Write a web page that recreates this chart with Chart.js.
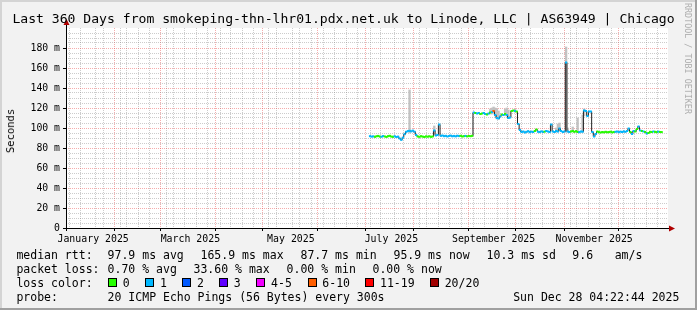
<!DOCTYPE html>
<html><head><meta charset="utf-8">
<script src="https://cdn.jsdelivr.net/npm/chart.js@4.4.1/dist/chart.umd.min.js"></script>
<style>
html,body{margin:0;padding:0;background:#f2f2f2;}
#wrap{position:relative;width:697px;height:310px;overflow:hidden;}
#c{position:absolute;left:0;top:0;}
.t{position:absolute;white-space:pre;font-family:"DejaVu Sans Mono",monospace;color:#000;font-size:11.5px;line-height:14px;}
.box{position:absolute;width:9px;height:9px;box-sizing:border-box;border:1px solid #000;}
</style></head><body>
<div id="wrap">
<canvas id="c" width="697" height="310"></canvas>
<div class="t" style="left:12.4px;top:10.5px;font-size:13.1px;line-height:16px;">Last 360 Days from smokeping-thn-lhr01.pdx.net.uk to Linode, LLC | AS63949 | Chicago</div>
<div class="t" style="left:10px;top:131px;font-size:10.5px;line-height:12px;transform:translate(-50%,-50%) rotate(-90deg);">Seconds</div>
<div class="t" style="left:693px;top:3px;font-size:8.4px;line-height:10px;color:#adadad;transform-origin:0 0;transform:rotate(90deg);">RRDTOOL / TOBI OETIKER</div>

<div class="t" style="left:16.4px;top:247.5px;">median rtt:</div>
<div class="t" style="left:107.6px;top:247.5px;">97.9 ms avg</div>
<div class="t" style="left:200.5px;top:247.5px;">165.9 ms max</div>
<div class="t" style="left:300.5px;top:247.5px;">87.7 ms min</div>
<div class="t" style="left:393.5px;top:247.5px;">95.9 ms now</div>
<div class="t" style="left:486.6px;top:247.5px;">10.3 ms sd</div>
<div class="t" style="left:572.3px;top:247.5px;">9.6</div>
<div class="t" style="left:614.7px;top:247.5px;">am/s</div>

<div class="t" style="left:16.4px;top:261.5px;">packet loss:</div>
<div class="t" style="left:107.6px;top:261.5px;">0.70 % avg</div>
<div class="t" style="left:193.5px;top:261.5px;">33.60 % max</div>
<div class="t" style="left:286.6px;top:261.5px;">0.00 % min</div>
<div class="t" style="left:372.5px;top:261.5px;">0.00 % now</div>

<div class="t" style="left:16.4px;top:275.5px;">loss color:</div>
<div id="losslegend"></div>

<div class="t" style="left:16.4px;top:289.5px;">probe:</div>
<div class="t" style="left:107.6px;top:289.5px;">20 ICMP Echo Pings (56 Bytes) every 300s</div>
<div class="t" style="left:513.2px;top:289.5px;">Sun Dec 28 04:22:44 2025</div>
</div>
<script>
// ---- time axis (days since 2025-01-01 00:00) ----
const START = 1 + (4*3600 + 22*60 + 44) / 86400;   // Jan 2 2025 04:22:44
const END = START + 360;                            // Dec 28 2025 04:22:44
const dayOf = (m, d) => (Date.UTC(2025, m - 1, d) - Date.UTC(2025, 0, 1)) / 86400000;

const monthLabels = ['January 2025', 'March 2025', 'May 2025', 'July 2025', 'September 2025', 'November 2025'];
const monthLabelMonths = [1, 3, 5, 7, 9, 11];
const monthLineMonths = [2, 3, 4, 5, 6, 7, 8, 9, 10, 11, 12];
const firstSunday = dayOf(1, 5);

const yLabelValues = [0, 20, 40, 60, 80, 100, 120, 140, 160, 180];
const yLabels = ['0', '20 m', '40 m', '60 m', '80 m', '100 m', '120 m', '140 m', '160 m', '180 m'];

// ---- data: one value per day, starting at day 183 (Jul 3) ----
const firstDay = 183;
const median = [
  91.8, 91.4, 91.6, 91.2, 91.7, 92.1, 91.4, 91.3, 91.9, 91.5, 91.1, 91.8, 92.2, 91.4, 91.2, 91.7, 91.0, 91.4,
  89.5, 88.2, 90.4,
  93.8, 96.2, 96.9, 97.2, 96.6, 97.4, 96.3, 93.0,
  91.5, 91.2, 91.8, 91.4, 91.0, 91.6, 91.3, 91.7, 91.2, 91.5,
  97.5, 92.5, 93.0, 103.5, 92.2,
  92.5, 91.8, 92.2, 91.5, 92.0, 92.4, 91.7, 92.1, 91.6, 92.3, 91.9, 92.2, 91.5, 91.8, 92.1, 91.6, 92.0, 91.8, 92.2,
  115.5, 115.0, 114.5, 115.0, 114.0, 114.5, 115.0, 114.0, 113.5, 114.5, 115.5, 116.0, 117.0, 113.0, 110.0, 109.5,
  111.5, 113.5, 113.0, 114.0, 113.0, 110.0, 110.5, 117.0, 117.5, 117.0, 116.5, 104.0, 98.0,
  96.0, 96.5, 95.5, 96.2, 96.8, 95.8, 96.4, 96.0, 97.0, 98.5, 96.3, 95.9, 96.6, 96.1, 96.4,
  97.0, 96.5, 96.0, 103.5, 96.5, 96.0, 97.0, 96.5, 99.5, 97.0, 96.0, 96.5,
  165.5,
  96.5, 96.0, 96.5, 97.0, 96.2, 96.8, 96.0, 95.8, 96.5, 96.3,
  117.5, 117.0, 112.0, 116.5, 116.5, 96.0, 91.5, 94.0, 96.5,
  95.8, 95.5, 96.0, 95.6, 96.2, 95.7, 95.9, 96.3, 95.6, 96.0,
  96.2, 96.5, 95.8, 96.4, 96.0, 96.6, 96.2, 97.0,
  99.5, 96.0, 94.0, 97.0, 96.5, 99.0, 101.5, 97.5, 97.0, 96.5, 96.0, 94.5, 95.0, 96.2,
  96.0, 96.5, 96.2, 95.8, 96.4, 96.0, 95.9
];
// lost pings (of 20) for each median value
const loss = [
  1, 1, 1, 0, 0, 0, 0, 1, 1, 0, 0, 0, 0, 0, 0, 1, 1, 1,
  1, 1, 1,
  1, 1, 1, 1, 1, 1, 1, 1,
  0, 0, 0, 0, 0, 0, 0, 0, 0, 0,
  1, 1, 1, 1, 1,
  1, 1, 1, 1, 1, 1, 1, 1, 1, 1, 1, 0, 0, 0, 1, 0, 0, 0, 0,
  1, 0, 1, 1, 0, 0, 1, 1, 0, 1, 0, 1, 7, 1, 1, 1,
  1, 0, 1, 0, 1, 1, 1, 0, 0, 1, 0, 1, 1,
  1, 1, 1, 1, 1, 1, 1, 1, 0, 0, 1, 1, 1, 1, 0,
  1, 1, 1, 1, 1, 1, 1, 1, 1, 1, 1, 1,
  1,
  1, 1, 0, 0, 0, 0, 0, 1, 1, 1,
  1, 1, 1, 1, 1, 1, 1, 1, 0,
  0, 0, 0, 0, 0, 0, 0, 0, 0, 0,
  1, 1, 1, 1, 1, 1, 1, 1,
  1, 0, 1, 1, 0, 0, 1, 1, 0, 1, 0, 1, 0, 0,
  0, 1, 0, 0, 1, 0, 0
];
// smoke (spread of the pings) where it shows above the median line
const smokeDay = [207, 222, 256, 257, 258, 259, 260, 261, 265, 266, 267, 271, 296, 297, 298, 302, 303, 306, 309, 312, 313];
const smokeLo  = [ 95,  96, 114, 114, 115, 112, 109, 109, 113, 112, 110, 116,  96,  96,  97,  96,  96,  96,  96,  96, 112];
const smokeHi  = [138, 102, 119, 120, 121, 120, 119, 117, 119, 120, 118, 119, 100, 104, 105, 181, 100, 101, 110, 113, 119];

const lossBins = [0, 1, 2, 3, 5, 10, 19, 20];
const lossNames = ['0', '1', '2', '3', '4-5', '6-10', '11-19', '20/20'];
const lossColors = ['#26ff00', '#00b8ff', '#0059ff', '#5e00ff', '#f200ff', '#ff5e00', '#ff0000', '#a10000'];
const colorFor = n => lossColors[lossBins.findIndex(b => n <= b)];

// loss legend
const lossBoxX = [108, 145.3, 182.2, 219, 256.4, 307.6, 365.3, 430];
const ll = document.getElementById('losslegend');
lossNames.forEach((name, i) => {
  const b = document.createElement('div');
  b.className = 'box'; b.style.left = lossBoxX[i] + 'px'; b.style.top = '278px'; b.style.background = lossColors[i];
  ll.appendChild(b);
  const t = document.createElement('div');
  t.className = 't'; t.style.left = (lossBoxX[i] + 14.7) + 'px'; t.style.top = '275.5px'; t.textContent = name;
  ll.appendChild(t);
});

// ---- ticks ----
const xTicks = [];
for (let d = firstSunday; d <= END; d += 7) if (d >= START) xTicks.push({ value: d, kind: 'week' });
monthLineMonths.forEach(m => xTicks.push({ value: dayOf(m, 1), kind: 'month' }));
monthLabelMonths.forEach((m, i) => xTicks.push({ value: dayOf(m, 1) + 15, kind: 'label', lbl: monthLabels[i] }));
xTicks.sort((a, b) => a.value - b.value);

const yTicks = [];
for (let v = 0; v <= 200; v += 5) {
  const k = yLabelValues.indexOf(v);
  yTicks.push(k >= 0 ? { value: v, kind: 'major', lbl: yLabels[k] } : { value: v, kind: v === 200 ? 'none' : 'minor' });
}

const GRAY = 'rgba(120,120,120,0.38)';
const RED = 'rgba(230,60,60,0.42)';

const medianPts = median.map((v, i) => ({ x: firstDay + i, y: v }));
const smokePts = smokeDay.map((d, i) => ({ x: d, y: [smokeLo[i], smokeHi[i]] }));
const pointColors = loss.map(colorFor);

const bgPlugin = {
  id: 'bg',
  beforeDraw(chart) {
    const c = chart.ctx, a = chart.chartArea;
    c.save();
    c.fillStyle = '#f2f2f2'; c.fillRect(0, 0, 697, 310);
    c.fillStyle = '#d4d4d4'; c.fillRect(0, 0, 697, 2); c.fillRect(0, 0, 2, 310);
    c.fillStyle = '#a0a0a0'; c.fillRect(0, 308, 697, 2); c.fillRect(695, 0, 2, 310);
    c.fillStyle = '#ffffff'; c.fillRect(a.left, a.top, a.right - a.left, a.bottom - a.top);
    c.restore();
  }
};
const axisPlugin = {
  id: 'axes',
  afterDraw(chart) {
    const c = chart.ctx, a = chart.chartArea;
    const yb = a.bottom + 0.5, xl = a.left + 0.5;
    c.save();
    c.strokeStyle = '#000'; c.lineWidth = 1;
    c.beginPath(); c.moveTo(a.left - 3, yb); c.lineTo(a.right + 3, yb); c.stroke();
    c.beginPath(); c.moveTo(xl, a.bottom + 3); c.lineTo(xl, a.top - 4); c.stroke();
    c.fillStyle = '#b00000';
    c.beginPath(); c.moveTo(a.right + 1, yb - 3); c.lineTo(a.right + 7, yb); c.lineTo(a.right + 1, yb + 3); c.closePath(); c.fill();
    c.beginPath(); c.moveTo(xl - 3, a.top - 3); c.lineTo(xl, a.top - 9); c.lineTo(xl + 3, a.top - 3); c.closePath(); c.fill();
    c.restore();
  }
};

new Chart(document.getElementById('c'), {
  type: 'line',
  data: {
    datasets: [
      { type: 'bar', data: smokePts, backgroundColor: '#c2c2c2', borderWidth: 0, barThickness: 1.7, grouped: false, order: 3 },
      { type: 'line', data: medianPts, borderColor: '#202020', borderWidth: 1, stepped: 'middle', pointRadius: 0, fill: false, order: 2 },
      { type: 'line', data: medianPts, showLine: false, pointStyle: 'line', pointRadius: 1.1, pointBorderWidth: 2,
        pointBorderColor: pointColors, pointBackgroundColor: pointColors, order: 1 }
    ]
  },
  options: {
    responsive: false, animation: false, events: [], devicePixelRatio: 1,
    layout: { padding: { left: 16, right: 29, top: 28, bottom: 60 } },
    plugins: { legend: { display: false }, title: { display: false }, tooltip: { enabled: false } },
    scales: {
      x: {
        type: 'linear', min: START, max: END,
        afterFit(s) { s.height = 22; },
        afterBuildTicks(s) { s.ticks = xTicks.map(t => Object.assign({}, t)); },
        ticks: { autoSkip: false, maxRotation: 0, padding: 2, color: '#000',
          font: { family: 'DejaVu Sans Mono', size: 9.9 },
          callback: (v, i, t) => t[i].lbl || '' },
        grid: {
          lineWidth: 1, tickLength: 3,
          color: c => c.tick && c.tick.kind === 'month' ? RED : (c.tick && c.tick.kind === 'week' ? GRAY : 'rgba(0,0,0,0)'),
          tickColor: c => c.tick && c.tick.kind === 'month' ? '#000' : 'rgba(0,0,0,0)'
        },
        border: { display: false, dash: [1, 1] }
      },
      y: {
        min: 0, max: 200,
        afterFit(s) { s.width = 50; },
        afterBuildTicks(s) { s.ticks = yTicks.map(t => Object.assign({}, t)); },
        ticks: { autoSkip: false, padding: 3, color: '#000',
          font: { family: 'DejaVu Sans Mono', size: 9.8 },
          callback: (v, i, t) => t[i].lbl || '' },
        grid: {
          lineWidth: 1, tickLength: 3,
          color: c => c.tick && c.tick.kind === 'major' ? RED : (c.tick && c.tick.kind === 'minor' ? GRAY : 'rgba(0,0,0,0)'),
          tickColor: c => c.tick && c.tick.kind === 'major' ? '#000' : 'rgba(0,0,0,0)'
        },
        border: { display: false, dash: [1, 1] }
      }
    }
  },
  plugins: [bgPlugin, axisPlugin]
});
</script>
</body></html>
